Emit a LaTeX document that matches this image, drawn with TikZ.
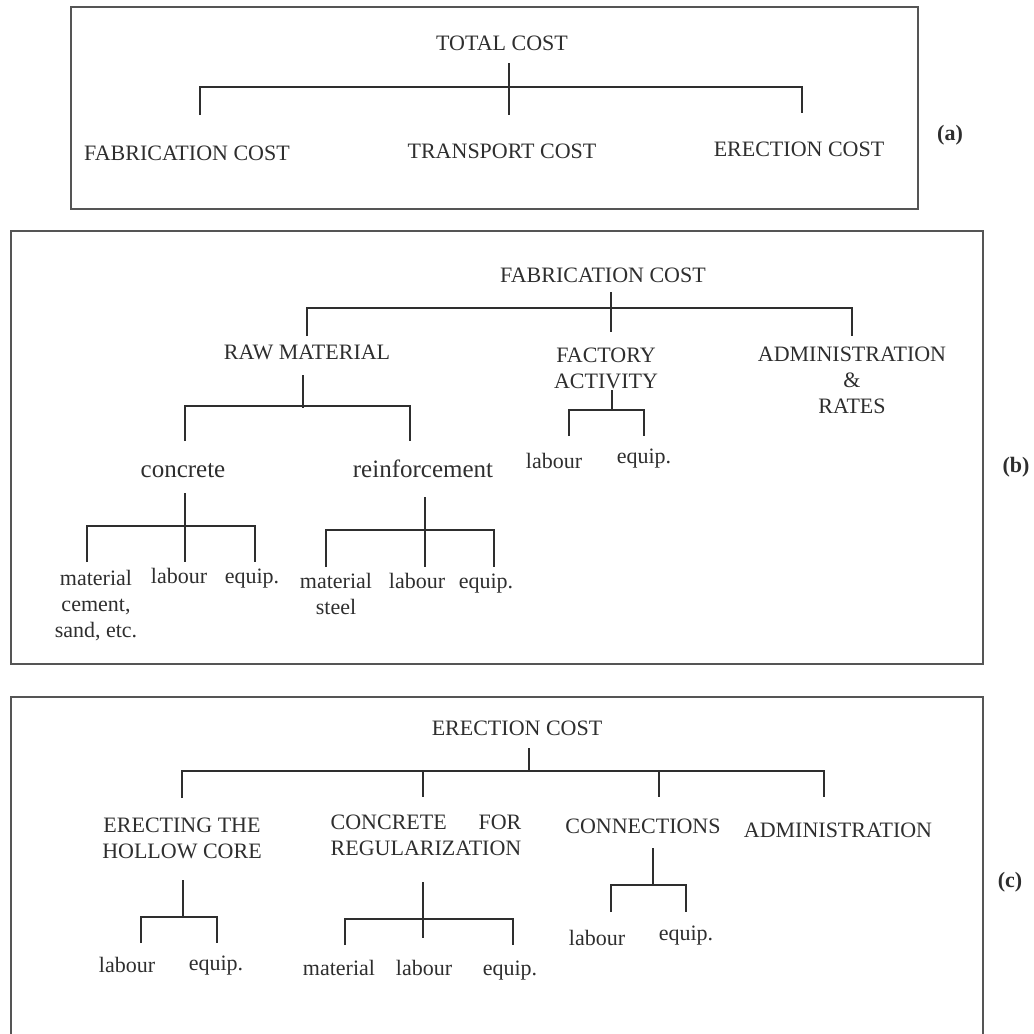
\documentclass[tikz,border=0pt]{standalone}
\usepackage{fontspec}
\setmainfont{Liberation Serif}
\usepackage{calc}
\definecolor{ink}{HTML}{2E2E2E}
\definecolor{framec}{HTML}{555555}
\begin{document}
\begin{tikzpicture}[x=0.5pt,y=-0.5pt,
  txt/.style={inner sep=0pt,anchor=base,align=center,text=ink,font=\fontsize{11}{13}\selectfont},
  big/.style={txt,font=\fontsize{12.5}{15}\selectfont},
  tag/.style={inner sep=0pt,text=ink,font=\fontsize{11}{13}\selectfont\bfseries},
  conn/.style={draw=ink,line width=0.75pt},
  frame/.style={draw=framec,line width=1.1pt}]
\useasboundingbox (0,0) rectangle (1034,1034);

% ---------- frames ----------
\draw[frame] (71,7) rectangle (918,209);
\draw[frame] (11,231) rectangle (983,664);
\draw[frame] (11,1034) -- (11,697) -- (983,697) -- (983,1034);

\node[tag] (la) at (950,135) {(a)};
\node[tag] (lb) at (1016,467) {(b)};
\node[tag] (lc) at (1010,882) {(c)};

% ---------- (a) ----------
\node[txt] (tot)  at (502,50)  {TOTAL COST};
\node[txt] (afab) at (187,160) {FABRICATION COST};
\node[txt] (atra) at (502,158) {TRANSPORT COST};
\node[txt] (aere) at (799,156) {ERECTION COST};

\coordinate (a-s0) at (509,63);  \coordinate (a-s1) at (509,115);
\coordinate (a-l0) at (200,115); \coordinate (a-l1) at (200,87);
\coordinate (a-r1) at (802,87);  \coordinate (a-r0) at (802,113);
\draw[conn] (a-s0) -- (a-s1);
\draw[conn] (a-l0) -- (a-l1) -- (a-r1) -- (a-r0);

% ---------- (b) ----------
% (multi-line nodes: base anchor = baseline of the last line)
\node[txt] (bfab) at (603,282) {FABRICATION COST};
\node[txt] (raw)  at (307,359) {RAW MATERIAL};
\node[txt] (fac)  at (606,388) {FACTORY\\ACTIVITY};
\node[txt] (adm)  at (852,413) {ADMINISTRATION\\\&\\RATES};
\node[big] (conc) at (183,477) {concrete};
\node[big] (reinf) at (423,477) {reinforcement};
\node[txt] (cmat) at (96,637)  {material\\cement,\\sand, etc.};
\node[txt] (clab) at (179,583) {labour};
\node[txt] (ceq)  at (252,583) {equip.};
\node[txt] (rmat) at (336,614) {material\\steel};
\node[txt] (rlab) at (417,588) {labour};
\node[txt] (req)  at (486,588) {equip.};
\node[txt] (flab) at (554,468) {labour};
\node[txt] (feq)  at (644,463) {equip.};

\coordinate (b-s0) at (611,292); \coordinate (b-s1) at (611,332);
\coordinate (b-l0) at (307,336); \coordinate (b-l1) at (307,308);
\coordinate (b-r1) at (852,308); \coordinate (b-r0) at (852,336);
\draw[conn] (b-s0) -- (b-s1);
\draw[conn] (b-l0) -- (b-l1) -- (b-r1) -- (b-r0);

\coordinate (rw-s0) at (303,375); \coordinate (rw-s1) at (303,408);
\coordinate (rw-l0) at (185,441); \coordinate (rw-l1) at (185,406);
\coordinate (rw-r1) at (410,406); \coordinate (rw-r0) at (410,441);
\draw[conn] (rw-s0) -- (rw-s1);
\draw[conn] (rw-l0) -- (rw-l1) -- (rw-r1) -- (rw-r0);

\coordinate (cc-s0) at (185,493); \coordinate (cc-s1) at (185,562);
\coordinate (cc-l0) at (87,562);  \coordinate (cc-l1) at (87,526);
\coordinate (cc-r1) at (255,526); \coordinate (cc-r0) at (255,562);
\draw[conn] (cc-s0) -- (cc-s1);
\draw[conn] (cc-l0) -- (cc-l1) -- (cc-r1) -- (cc-r0);

\coordinate (rf-s0) at (425,497); \coordinate (rf-s1) at (425,567);
\coordinate (rf-l0) at (326,567); \coordinate (rf-l1) at (326,530);
\coordinate (rf-r1) at (494,530); \coordinate (rf-r0) at (494,567);
\draw[conn] (rf-s0) -- (rf-s1);
\draw[conn] (rf-l0) -- (rf-l1) -- (rf-r1) -- (rf-r0);

\coordinate (fa-s0) at (612,390); \coordinate (fa-s1) at (612,410);
\coordinate (fa-l0) at (569,436); \coordinate (fa-l1) at (569,410);
\coordinate (fa-r1) at (644,410); \coordinate (fa-r0) at (644,436);
\draw[conn] (fa-s0) -- (fa-s1);
\draw[conn] (fa-l0) -- (fa-l1) -- (fa-r1) -- (fa-r0);

% ---------- (c) ----------
\node[txt] (cere) at (517,735) {ERECTION COST};
\node[txt] (hol)  at (182,858) {ERECTING THE\\HOLLOW CORE};
\node[txt] (creg) at (426,855) {\makebox[\widthof{REGULARIZATION}][s]{CONCRETE\hfill FOR}\\REGULARIZATION};
\node[txt] (con)  at (643,833) {CONNECTIONS};
\node[txt] (cadm) at (838,837) {ADMINISTRATION};
\node[txt] (hlab) at (127,972) {labour};
\node[txt] (heq)  at (216,970) {equip.};
\node[txt] (gmat) at (339,975) {material};
\node[txt] (glab) at (424,975) {labour};
\node[txt] (geq)  at (510,975) {equip.};
\node[txt] (nlab) at (597,945) {labour};
\node[txt] (neq)  at (686,940) {equip.};

\coordinate (c-s0) at (529,748); \coordinate (c-s1) at (529,771);
\coordinate (c-l0) at (182,798); \coordinate (c-l1) at (182,771);
\coordinate (c-r1) at (824,771); \coordinate (c-r0) at (824,797);
\coordinate (c-m1) at (423,771); \coordinate (c-m0) at (423,797);
\coordinate (c-n1) at (659,771); \coordinate (c-n0) at (659,797);
\draw[conn] (c-s0) -- (c-s1);
\draw[conn] (c-l0) -- (c-l1) -- (c-r1) -- (c-r0);
\draw[conn] (c-m1) -- (c-m0);
\draw[conn] (c-n1) -- (c-n0);

\coordinate (h-s0) at (183,880); \coordinate (h-s1) at (183,917);
\coordinate (h-l0) at (141,943); \coordinate (h-l1) at (141,917);
\coordinate (h-r1) at (217,917); \coordinate (h-r0) at (217,943);
\draw[conn] (h-s0) -- (h-s1);
\draw[conn] (h-l0) -- (h-l1) -- (h-r1) -- (h-r0);

\coordinate (g-s0) at (423,882); \coordinate (g-s1) at (423,938);
\coordinate (g-l0) at (345,945); \coordinate (g-l1) at (345,919);
\coordinate (g-r1) at (513,919); \coordinate (g-r0) at (513,945);
\draw[conn] (g-s0) -- (g-s1);
\draw[conn] (g-l0) -- (g-l1) -- (g-r1) -- (g-r0);

\coordinate (n-s0) at (653,848); \coordinate (n-s1) at (653,885);
\coordinate (n-l0) at (611,912); \coordinate (n-l1) at (611,885);
\coordinate (n-r1) at (686,885); \coordinate (n-r0) at (686,912);
\draw[conn] (n-s0) -- (n-s1);
\draw[conn] (n-l0) -- (n-l1) -- (n-r1) -- (n-r0);
\end{tikzpicture}
\end{document}
